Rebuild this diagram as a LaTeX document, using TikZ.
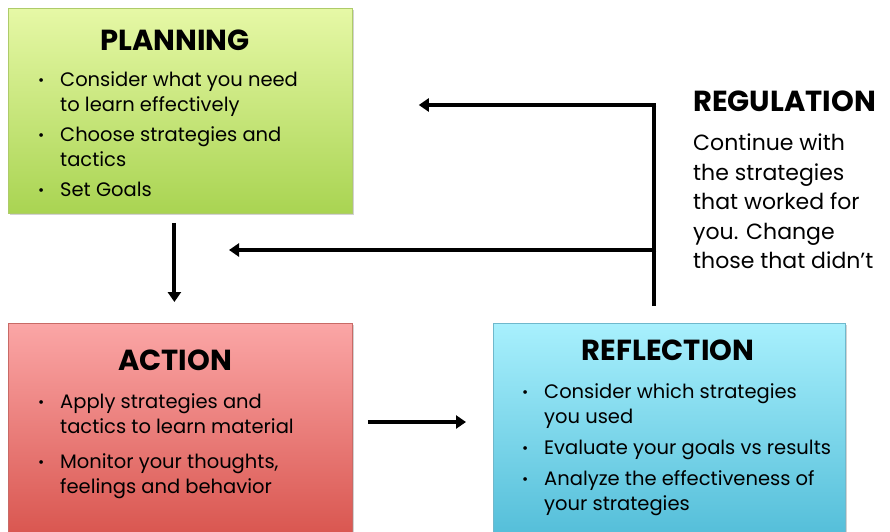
\documentclass[tikz,border=0pt]{standalone}
\usepackage{fontspec}
\setmainfont{Poppins}
\usetikzlibrary{calc,shadows,arrows.meta}
\definecolor{gtop}{HTML}{E6F8A6}
\definecolor{gbot}{HTML}{A9D452}
\definecolor{gbrd}{HTML}{AECB6A}
\definecolor{rtop}{HTML}{FBA6A6}
\definecolor{rbot}{HTML}{D64F48}
\definecolor{rbrd}{HTML}{C86A66}
\definecolor{ctop}{HTML}{A8F0FD}
\definecolor{cbot}{HTML}{4DBAD6}
\definecolor{cbrd}{HTML}{6FB8CC}
\tikzset{
  box/.style={draw, line width=0.8pt, rectangle, inner sep=0pt, anchor=north west,
    drop shadow={shadow xshift=2pt, shadow yshift=-2pt, opacity=0.35}},
  plan/.style={box, draw=gbrd, top color=gtop, bottom color=gbot},
  act/.style={box, draw=rbrd, top color=rtop, bottom color=rbot},
  refl/.style={box, draw=cbrd, top color=ctop, bottom color=cbot},
  ttl/.style={font=\fontsize{29}{33}\selectfont\bfseries, inner sep=0pt},
  body/.style={font=\fontsize{19.5}{25}\selectfont, align=left, anchor=north west, inner sep=0pt},
  reg/.style={font=\fontsize{22}{29.5}\selectfont, align=left, anchor=north west, inner sep=0pt},
  arr/.style={line width=4pt, -{Triangle[length=10pt,width=13pt]}},
  ln/.style={line width=4pt},
}
\newcommand\bul{\makebox[22pt][l]{\raisebox{0.5pt}{\fontsize{15}{15}\selectfont\textbullet}}}
\newcommand\ind{\hspace*{22pt}}
\begin{document}
\begin{tikzpicture}[x=1pt,y=1pt]
\useasboundingbox (0,0) rectangle (890,-531);
\clip (0,0) rectangle (890,-531);
\fill[white] (0,0) rectangle (890,-531);
% boxes
\node[plan, minimum width=344pt, minimum height=205pt] (planbox) at (8,-8) {};
\node[act, minimum width=344pt, minimum height=230pt] (actbox) at (8,-323) {};
\node[refl, minimum width=352pt, minimum height=230pt] (reflbox) at (493,-323) {};
% titles
\node[ttl] (plant) at (175,-40) {PLANNING};
\node[ttl] (actt) at (175,-360) {ACTION};
\node[ttl] (reflt) at (668,-350) {REFLECTION};
\node[ttl, anchor=west] (regt) at (693,-101) {REGULATION};
% bodies
\node[body] (planb) at (38,-71) {\bul Consider what you need\\\ind to learn effectively\\[5pt]\bul Choose strategies and\\\ind tactics\\[5pt]\bul Set Goals};
\node[body] (actb) at (38,-393) {\bul Apply strategies and\\\ind tactics to learn material\\[10pt]\bul Monitor your thoughts,\\\ind feelings and behavior};
\node[body] (reflb) at (522,-383) {\bul Consider which strategies\\\ind you used\\[6pt]\bul Evaluate your goals vs results\\[6pt]\bul Analyze the effectiveness of\\\ind your strategies};
\node[reg] (regb) at (693,-134) {Continue with\\the strategies\\that worked for\\you. Change\\those that didn't};
% connectors
\draw[arr] ($(planbox.south)+(-6,-9)$) -- ($(actbox.north)+(-6,21)$);
\draw[arr] ($(actbox.north east)+(15,-99)$) -- ($(reflbox.north west)+(-27,-99)$);
\coordinate (r0) at ($(reflbox.north)+(-15,17)$);
\coordinate (rtop) at ($(r0)+(0,201)$);
\coordinate (rmid) at ($(r0)+(0,56)$);
\coordinate (topend) at ($(planbox.north east)+(66,-97)$);
\coordinate (midend) at (229,-250);
\draw[ln] (r0) -- (rtop);
\draw[arr] ([xshift=2pt]rtop) -- (topend);
\draw[arr] ([xshift=2pt]rmid) -- (midend);
\end{tikzpicture}
\end{document}
